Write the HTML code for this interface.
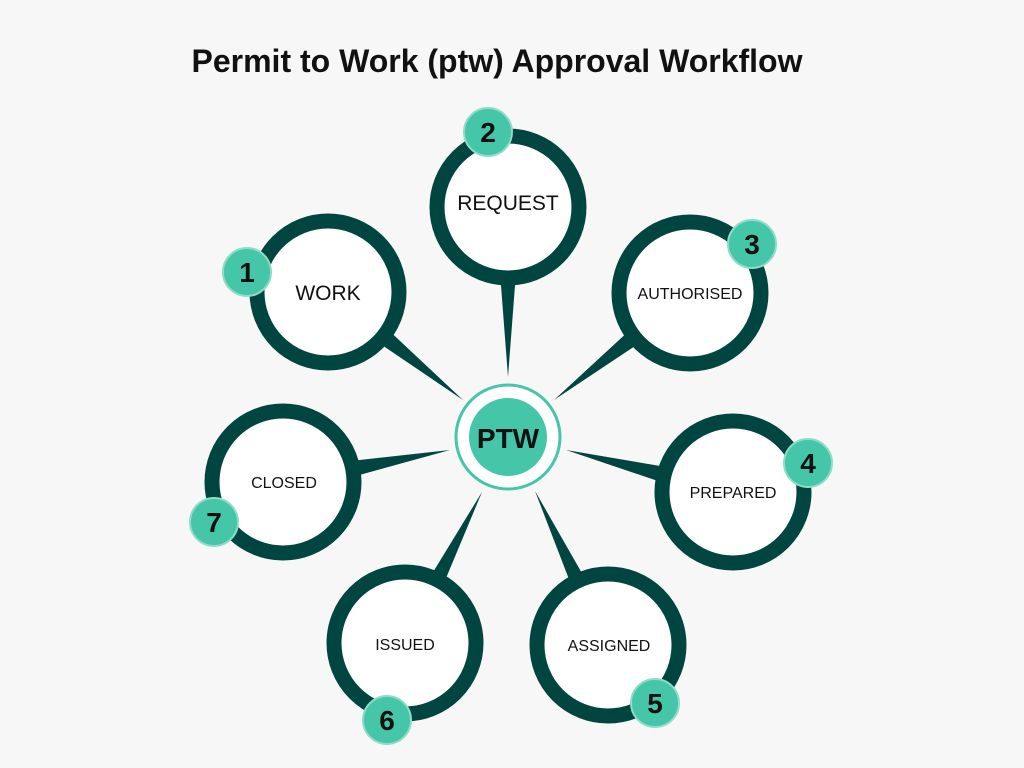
<!DOCTYPE html>
<html><head><meta charset="utf-8"><style>
html,body{margin:0;padding:0;background:#f7f7f7;}
svg{display:block}
</style></head><body>
<svg width="1024" height="768" viewBox="0 0 1024 768" xmlns="http://www.w3.org/2000/svg" font-family="Liberation Sans, sans-serif">
<rect width="1024" height="768" fill="#f7f7f7"/>
<text x="497" y="72" text-anchor="middle" font-size="32" font-weight="bold" fill="#111">Permit to Work (ptw) Approval Workflow</text>
<g fill="#004540">
<polygon points="495,207 521,207 508,377"/>
<polygon points="320,303 336,281 463,400"/>
<polygon points="682,282 698,304 554,400"/>
<polygon points="737,479 729,505 566,450"/>
<polygon points="279,469 287,495 450,450"/>
<polygon points="394,636 416,650 482,492"/>
<polygon points="597,652 619,638 535,491"/>
</g>
<g fill="#fff" stroke="#004540" stroke-width="15">
<circle cx="508" cy="207" r="71"/>
<circle cx="328" cy="292" r="71"/>
<circle cx="690" cy="293" r="71"/>
<circle cx="733" cy="492" r="71"/>
<circle cx="283" cy="482" r="71"/>
<circle cx="405" cy="643" r="71"/>
<circle cx="608" cy="645" r="71"/>
</g>
<circle cx="508" cy="437" r="52" fill="#fff" stroke="#45c6a8" stroke-width="3"/>
<circle cx="508" cy="437" r="39" fill="#45c6a8"/>
<text x="508" y="448" text-anchor="middle" font-size="28" font-weight="bold" fill="#111">PTW</text>
<g fill="#111" text-anchor="middle">
<text x="508" y="210" font-size="21">REQUEST</text>
<text x="328" y="300" font-size="21">WORK</text>
<text x="690" y="299" font-size="16">AUTHORISED</text>
<text x="733" y="498" font-size="16">PREPARED</text>
<text x="284" y="488" font-size="16">CLOSED</text>
<text x="405" y="650" font-size="16">ISSUED</text>
<text x="609" y="651" font-size="16">ASSIGNED</text>
</g>
<g fill="#45c6a8" stroke="#8fdcc8" stroke-width="2">
<circle cx="488" cy="132" r="24"/>
<circle cx="752" cy="244" r="24"/>
<circle cx="247" cy="272" r="24"/>
<circle cx="808" cy="463" r="24"/>
<circle cx="214" cy="522" r="24"/>
<circle cx="387" cy="720" r="24"/>
<circle cx="655" cy="703" r="24"/>
</g>
<g fill="#111" font-size="28" font-weight="bold" text-anchor="middle">
<text x="488" y="142">2</text>
<text x="752" y="254">3</text>
<text x="247" y="282">1</text>
<text x="808" y="473">4</text>
<text x="214" y="532">7</text>
<text x="387" y="730">6</text>
<text x="655" y="713">5</text>
</g>
</svg>
</body></html>
